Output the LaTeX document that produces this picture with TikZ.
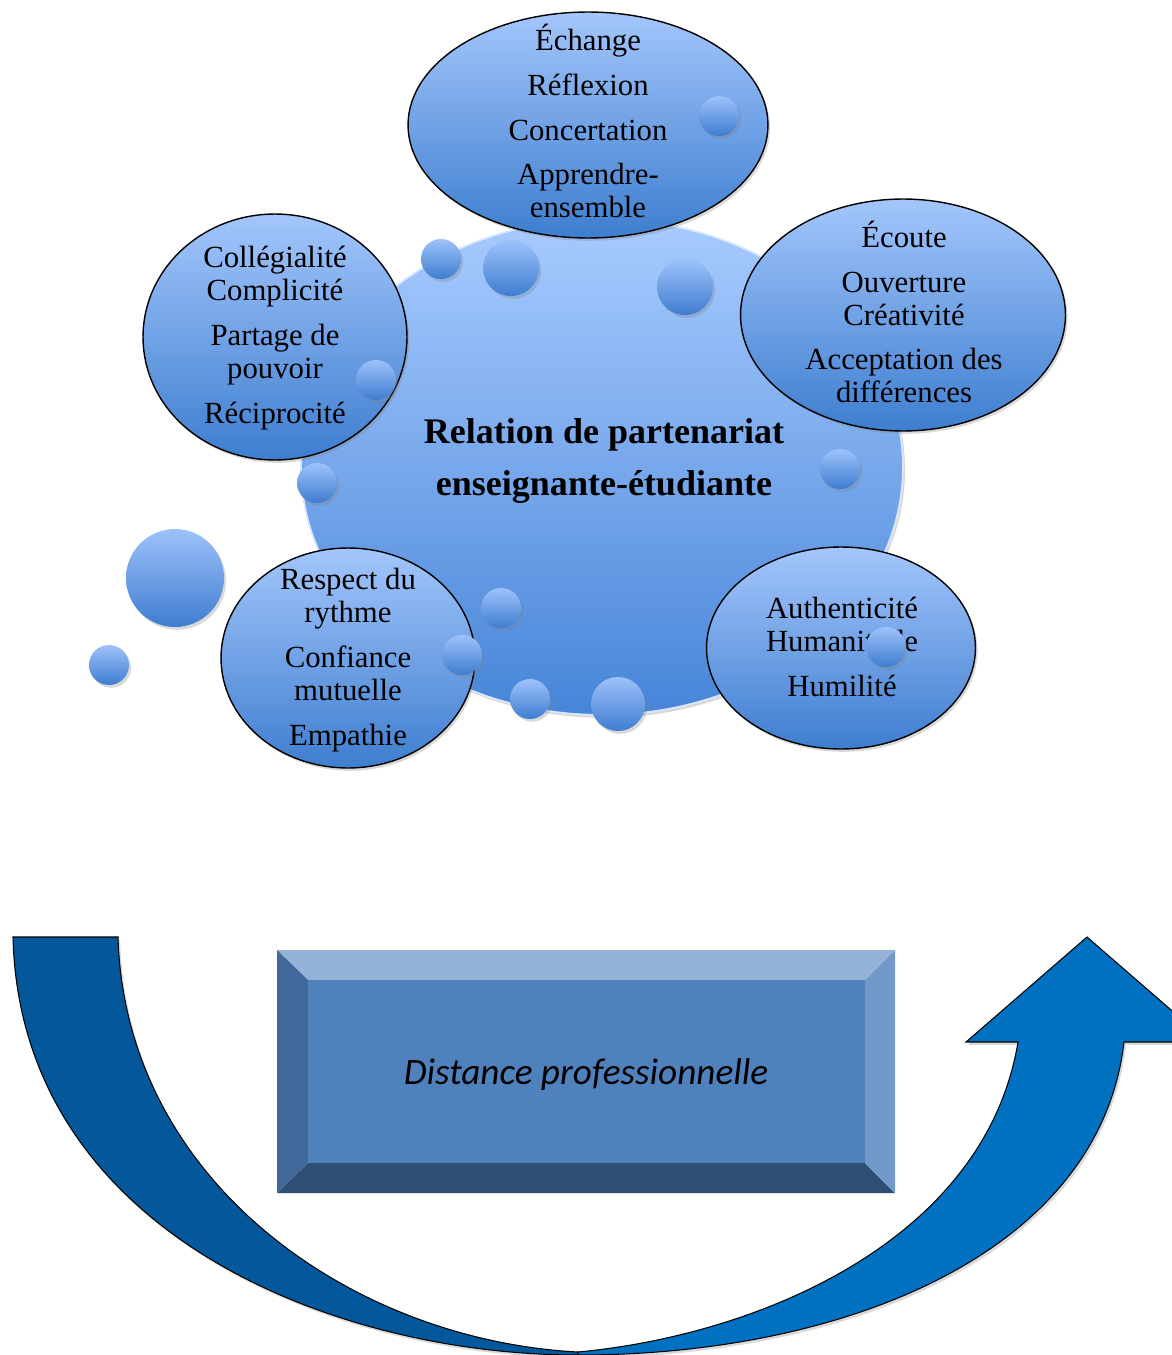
\documentclass[tikz,border=0pt]{standalone}
\usepackage{fontspec}
\setmainfont{Liberation Serif}
\newfontfamily\calibri{Carlito}
\usetikzlibrary{shapes.geometric, shadows}

\definecolor{bulleHaut}{HTML}{A3C6FC}
\definecolor{bulleBas}{HTML}{3E7ECF}
\definecolor{relationHaut}{HTML}{A8CBFF}
\definecolor{relationBas}{HTML}{4785D8}
\definecolor{goutteHaut}{HTML}{9DC2FA}
\definecolor{goutteBas}{HTML}{3F7DD0}
\definecolor{biseauHaut}{HTML}{95B3D7}
\definecolor{biseauGauche}{HTML}{41689B}
\definecolor{biseauDroit}{HTML}{7399CA}
\definecolor{biseauBas}{HTML}{2F4E74}
\definecolor{cadreFond}{HTML}{4F81BD}
\definecolor{flecheGauche}{HTML}{02589B}
\definecolor{flecheDroite}{HTML}{0070C0}

\begin{document}
\begin{tikzpicture}[x=0.02cm, y=-0.02cm,
    ombre/.style={drop shadow={opacity=0.3, shadow xshift=1.2pt, shadow yshift=-1.6pt}},
    bulle/.style={ellipse, draw=black, line width=0.8pt, inner sep=0pt, top color=bulleHaut, bottom color=bulleBas, ombre},
    goutte/.style={circle, inner sep=0pt, top color=goutteHaut, bottom color=goutteBas, ombre},
    texte/.style={align=center, inner sep=0pt, font=\fontsize{17.5}{18.7}\selectfont},
    fleche/.style={draw=black, line width=0.6pt, ombre}]
    \useasboundingbox (0,0) rectangle (1171,1355);

    % La relación central
    \node[ellipse, minimum width=12.04cm, minimum height=9.92cm, top color=relationHaut, bottom color=relationBas,
          draw=white!55!relationHaut, line width=1pt, ombre] (relation) at (602,467) {};
    \node[align=center, inner sep=0pt, font=\fontsize{20.5}{30}\selectfont\bfseries] (titre) at (604,461)
        {Relation de partenariat\\enseignante-étudiante};

    \node[bulle, minimum width=7.2cm, minimum height=4.52cm] (echange) at (588,125) {};
    \node[bulle, minimum width=5.28cm, minimum height=4.92cm] (collegialite) at (275,337) {};
    \node[bulle, minimum width=6.5cm, minimum height=4.64cm] (ecoute) at (903,315) {};
    \node[bulle, minimum width=5.08cm, minimum height=4.4cm] (respect) at (348,658) {};
    \node[bulle, minimum width=5.38cm, minimum height=4.04cm] (authenticite) at (841,648) {};

    \node[texte] (t-echange) at (588,121) {Échange\\[6.8pt]Réflexion\\[6.8pt]Concertation\\[6.8pt]Apprendre-\\ensemble};
    \node[texte] (t-collegialite) at (275,338) {Collégialité\\Complicité\\[6.8pt]Partage de\\pouvoir\\[6.8pt]Réciprocité};
    \node[texte] (t-ecoute) at (904,312) {Écoute\\[6.8pt]Ouverture\\Créativité\\[6.8pt]Acceptation des\\différences};
    \node[texte] (t-respect) at (348,660) {Respect du\\rythme\\[6.8pt]Confiance\\mutuelle\\[6.8pt]Empathie};
    \node[texte] (t-authenticite) at (842,647) {Authenticité\\Humanitude\\[6.8pt]Humilité};

    % Las gotas
    \foreach [count=\i] \x/\y/\d in {719/116/40, 441/259/40, 511/268/56, 685/287/56, 376/380/40,
                                     317/483/40, 840/469/40, 175/578/98, 109/665/40, 501/608/40,
                                     462/655/40, 530/699/40, 618/704/54, 886/647/40}
        \node[goutte, minimum size=\d*0.02cm] (g\i) at (\x,\y) {};

    % El marco biselado
    \fill[biseauHaut] (277,950) -- (895,950) -- (865,980) -- (308,980) -- cycle;
    \fill[biseauBas] (277,1193) -- (895,1193) -- (865,1163) -- (308,1163) -- cycle;
    \fill[biseauGauche] (277,950) -- (308,980) -- (308,1163) -- (277,1193) -- cycle;
    \fill[biseauDroit] (895,950) -- (865,980) -- (865,1163) -- (895,1193) -- cycle;
    \node[fill=cadreFond, inner sep=0pt, minimum width=11.14cm, minimum height=3.66cm] (cadre) at (586.5,1071.5) {};
    \node[inner sep=0pt, font=\calibri\itshape\fontsize{21.2}{24}\selectfont] (distance) at (586,1075) {Distance professionnelle};

    % La flecha en U
    \filldraw[fleche, fill=flecheGauche] (13,937) -- (118,937) .. controls (125,1180) and (350,1340) .. (578,1352)
        -- (578,1355) .. controls (330,1355) and (20,1230) .. (13,937) -- cycle;
    \filldraw[fleche, fill=flecheDroite] (578,1352) .. controls (760,1335) and (985,1240) .. (1018,1042)
        -- (966,1042) -- (1087,937) -- (1208,1042) -- (1124,1042)
        .. controls (1100,1250) and (850,1355) .. (578,1355) -- cycle;
\end{tikzpicture}
\end{document}
